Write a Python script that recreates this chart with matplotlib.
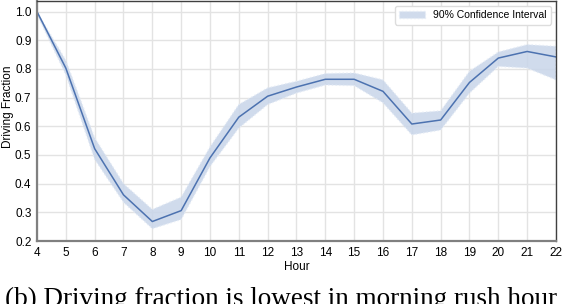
import matplotlib.pyplot as plt
import numpy as np

# hourly driving fraction with 90% CI
hours = list(range(4, 23))
frac = [1.0, 0.803, 0.522, 0.361, 0.268, 0.306, 0.49, 0.632, 0.705, 0.737, 0.764,
        0.764, 0.722, 0.608, 0.622, 0.753, 0.838, 0.861, 0.842]
ci_low = [0.99, 0.78, 0.485, 0.335, 0.243, 0.275, 0.46, 0.594, 0.676, 0.716, 0.744,
          0.742, 0.682, 0.57, 0.587, 0.716, 0.809, 0.803, 0.762]
ci_high = [1.0, 0.83, 0.56, 0.40, 0.31, 0.353, 0.528, 0.676, 0.734, 0.757, 0.784,
           0.786, 0.762, 0.646, 0.654, 0.792, 0.859, 0.885, 0.879]
yticks = [0.2, 0.3, 0.4, 0.5, 0.6, 0.7, 0.8, 0.9, 1.0]

plt.rcParams['font.family'] = ['Liberation Sans', 'DejaVu Sans']

fig = plt.figure(figsize=(5.62, 3.04), dpi=100)
ax = fig.add_axes([0.0658, 0.2072, 0.9235, 0.7895])

ax.fill_between(hours, ci_low, ci_high, facecolor='#c8d5e9', edgecolor='#e4ebf5',
                linestyle=':', linewidth=1.0, alpha=0.85, label='90% Confidence Interval')
ax.plot(hours, frac, color='#4c72b0', linewidth=1.1)

ax.set_xlim(4, 22)
ax.set_ylim(0.2, 1.037)
ax.set_xticks(hours)
ax.set_yticks(yticks)
ax.set_yticklabels([f'{v:.1f}' for v in yticks])
ax.tick_params(labelsize=8.5, length=0, pad=4)
ax.grid(True, color='#e3e3e3', linewidth=1.0)
ax.set_axisbelow(True)
for s in ['left', 'bottom']:
    ax.spines[s].set_color('#808080')
    ax.spines[s].set_linewidth(1.6)
for s in ['top', 'right']:
    ax.spines[s].set_color('#404040')
    ax.spines[s].set_linewidth(1.0)

ax.set_xlabel('Hour', fontsize=8.5, labelpad=2)
ax.set_ylabel('Driving Fraction', fontsize=8.5)
ax.yaxis.set_label_coords(-0.044, 0.56)
ax.legend(loc='upper right', fontsize=7.5, frameon=True, framealpha=1,
          edgecolor='#dddddd', fancybox=True, handlelength=2.5)

fig.text(0.5, 1 - 287 / 304, '(b) Driving fraction is lowest in morning rush hour',
         ha='center', va='top', fontsize=19.5, family='Liberation Serif')

fig.savefig('out.png', dpi=100)
